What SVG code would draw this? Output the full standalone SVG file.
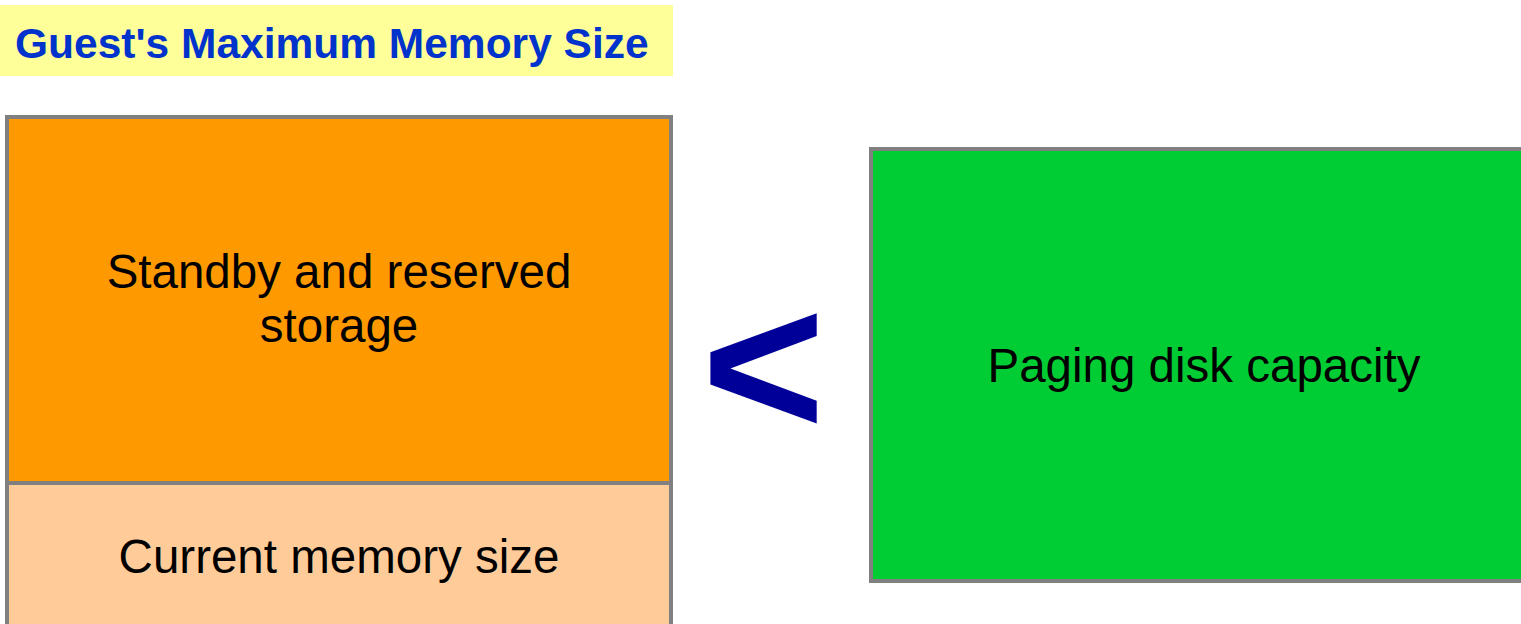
<svg xmlns="http://www.w3.org/2000/svg" width="1521" height="624" viewBox="0 0 1521 624">
<style>
.box{stroke:#808080;stroke-width:4}
.lbl{font-family:"Liberation Sans",Arial,sans-serif;font-size:47.5px;fill:#000;text-anchor:middle}
</style>
<rect width="1521" height="624" fill="#fff"/>
<g id="title">
<rect x="0" y="5" width="673" height="71" fill="#ffff99"/>
<text x="15" y="58" font-family="Liberation Sans,Arial,sans-serif" font-weight="bold" font-size="42.5" fill="#0033cc">Guest's Maximum Memory Size</text>
</g>
<g id="standby">
<rect class="box" x="7" y="117" width="664" height="366" fill="#ff9900"/>
<text class="lbl" x="339" y="288">Standby and reserved</text>
<text class="lbl" x="339" y="342">storage</text>
</g>
<g id="current">
<rect class="box" x="7" y="483" width="664" height="160" fill="#ffcc99"/>
<text class="lbl" x="339" y="573">Current memory size</text>
</g>
<g id="lessthan">
<text transform="translate(763.5,436) scale(1,0.965)" x="0" y="0" font-family="Liberation Sans,Arial,sans-serif" font-weight="bold" font-size="212" fill="#000099" text-anchor="middle">&lt;</text>
</g>
<g id="paging">
<rect class="box" x="871" y="149" width="680" height="432" fill="#00cc33"/>
<text class="lbl" x="1204" y="382">Paging disk capacity</text>
</g>
<g id="connectors"/>
</svg>
